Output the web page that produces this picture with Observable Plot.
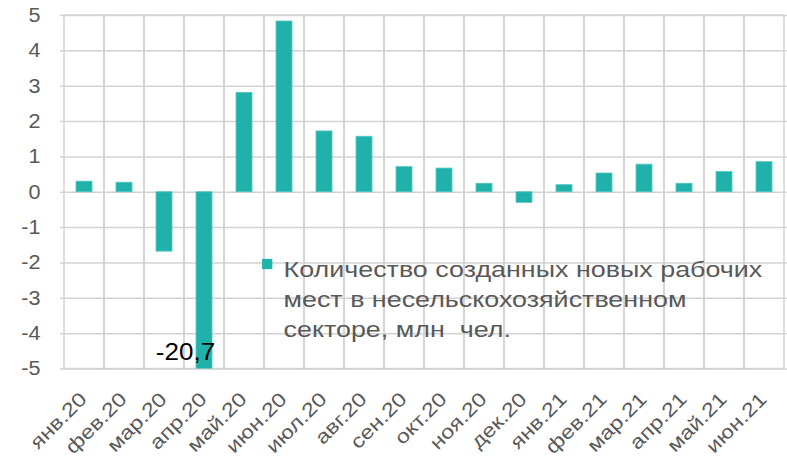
<!DOCTYPE html>
<html>
<head>
<meta charset="utf-8">
<script src="https://cdn.jsdelivr.net/npm/d3@7"></script>
<script src="https://cdn.jsdelivr.net/npm/@observablehq/plot@0.6"></script>
<style>
  html, body { margin: 0; padding: 0; background: #fff; overflow: hidden; }
  #chart svg { display: block; }
</style>
</head>
<body>
<div id="chart"></div>
<script>
const months = ["янв.20","фев.20","мар.20","апр.20","май.20","июн.20","июл.20","авг.20","сен.20","окт.20","ноя.20","дек.20","янв.21","фев.21","мар.21","апр.21","май.21","июн.21"];
const jobs = [0.30, 0.27, -1.68, -20.7, 2.81, 4.83, 1.72, 1.57, 0.71, 0.67, 0.24, -0.30, 0.20, 0.53, 0.78, 0.24, 0.57, 0.85];
const yTicks = [-5, -4, -3, -2, -1, 0, 1, 2, 3, 4, 5];
const legendLabel = "Количество созданных новых рабочих\nмест в несельскохозяйственном\nсекторе, млн  чел.";
const annotated = ["апр.20"];

const data = months.map((m, i) => ({month: m, value: jobs[i]}));
const labelData = data.filter(d => annotated.includes(d.month));

const font = "'Liberation Sans', Arial, sans-serif";
const teal = "#20b2aa";
const grid = "#d3d3d3";
const textGray = "#595959";

const chart = Plot.plot({
  width: 787,
  height: 457,
  marginTop: 15,
  marginBottom: 88.5,
  marginLeft: 60,
  marginRight: -1,
  style: {fontFamily: font, background: "#fff", overflow: "hidden"},
  x: {domain: months, padding: 0, axis: null},
  y: {domain: [-5, 5], axis: null},
  marks: [
    Plot.ruleY(yTicks, {stroke: grid, strokeWidth: 1.5}),
    Plot.barY(months, {x: d => d, y1: -5, y2: 5, fill: "none", stroke: grid, strokeWidth: 1.5}),
    Plot.barY(data, {x: "month", y: "value", fill: teal, stroke: "#52c6bf", strokeWidth: 0.8, insetLeft: 12, insetRight: 12, clip: "frame"}),
    Plot.axisY({ticks: yTicks, tickSize: 0, tickPadding: 20, fontSize: 20, color: textGray, label: null, tickFormat: d => String(d), className: "ylab"}),
    Plot.axisX({tickSize: 0, tickPadding: 27, tickRotate: -45, fontSize: 19.5, dx: -1, color: textGray, label: null, className: "xlab"}),
    Plot.text(labelData, {x: "month", frameAnchor: "bottom", dy: -16, dx: -19, text: d => String(d.value).replace(".", ","), fontSize: 23, fill: "#000", lineAnchor: "middle", className: "vlab"}),
    Plot.dot([legendLabel], {frameAnchor: "top-left", dx: 206.7, dy: 248.5, symbol: "square", r: 5.8, fill: teal, stroke: "none"}),
    Plot.text([legendLabel], {frameAnchor: "top-left", dx: 223, dy: 240, text: d => d, textAnchor: "start", lineAnchor: "top", fontSize: 21.5, lineHeight: 1.4, fill: textGray, className: "leg"})
  ]
});
document.getElementById("chart").appendChild(chart);

// the reference's glyphs are horizontally wider than plain Arial: stretch along the baseline
function stretch(selector, factor) {
  d3.select(chart).selectAll(selector).each(function() {
    const tspans = this.querySelectorAll("tspan");
    const nodes = tspans.length ? Array.from(tspans) : [this];
    for (const n of nodes) {
      const len = n.getComputedTextLength();
      if (len > 0) {
        n.setAttribute("textLength", (len * factor).toFixed(1));
        n.setAttribute("lengthAdjust", "spacingAndGlyphs");
      }
    }
  });
}
stretch(".leg text", 1.25);
stretch(".xlab text", 1.2);
stretch(".ylab text", 1.08);
stretch(".vlab text", 1.13);
</script>
</body>
</html>
